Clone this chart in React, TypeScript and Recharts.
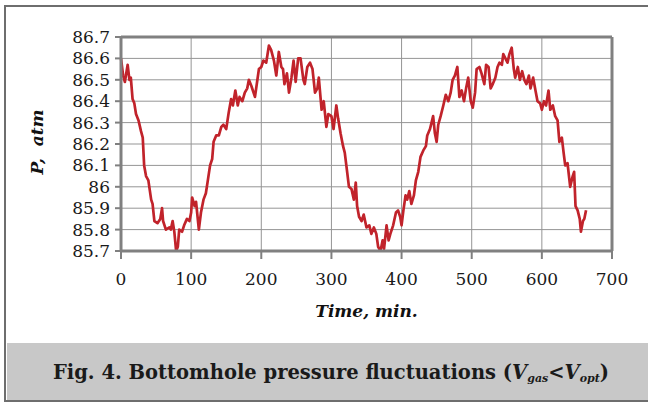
import React from 'react';
import { LineChart, Line, XAxis, YAxis, CartesianGrid, ReferenceLine } from 'recharts';

const times = [
  0, 3, 5.5, 9.5, 12, 14, 16.5, 19, 21.4, 25, 28.5, 31, 33, 35.7, 39, 43, 45, 47.6, 52, 56, 58.5, 60, 64, 69, 71, 73.6, 76, 78.6, 81, 83, 87, 90, 94, 97.6,
  100, 101.4, 105, 107, 111, 114, 117.6, 121, 123.8, 127, 130, 132, 135.7, 139.5, 143, 146, 150, 153.7, 157, 159.5, 163, 166.5, 169, 173, 176.5, 180, 182.3, 186, 191, 194, 196.6,
  200, 203, 207, 210.9, 214, 218, 221.4, 225, 228.6, 231, 233, 236.6, 239.5, 243, 246, 249, 252.6, 256, 260, 262, 265.6, 269.5, 273, 276.6, 280, 282, 286, 289, 292.8, 295.6,
  300, 303, 307, 309.5, 313, 316.6, 319, 322, 325, 328.6, 332, 334.7, 336.6, 339.4, 343, 346, 350, 354, 357, 360.5, 364, 366.6, 370, 373, 375, 378.6, 381.5, 384, 388, 392, 395, 398,
  400, 402.6, 405.7, 408, 411, 414, 417.6, 420.4, 423.8, 427, 431, 434.7, 436.6, 440.5, 445, 447.5, 450, 452.3, 455.7, 459.5, 463, 466.7, 470, 472.8, 476, 479.5, 482.4, 485.7, 489, 492, 495, 498.6,
  501.5, 504.8, 507, 511, 514, 518, 520.5, 524, 527, 530, 533.7, 536.8, 539.6, 543, 545, 548, 551, 553.7, 557, 560, 562, 565.7, 568.6, 571.9, 575, 578, 581.5, 583.8, 587.6, 590.9, 593.8, 597.6,
  600, 603, 606, 609.5, 612, 615.7, 619, 622.4, 625, 628.5, 631, 633.3, 636.6, 640.4, 644, 646, 648, 651, 654, 655.7, 658.6, 660.5, 663,
];

const pressure = [
  86.60, 86.52, 86.49, 86.57, 86.50, 86.51, 86.41, 86.39, 86.34, 86.31, 86.26, 86.23, 86.10, 86.05, 86.03, 85.94, 85.92, 85.84, 85.83, 85.85, 85.90, 85.84, 85.80, 85.81, 85.80, 85.84, 85.79, 85.70, 85.72, 85.80, 85.79, 85.82, 85.85, 85.84,
  85.88, 85.95, 85.91, 85.93, 85.80, 85.88, 85.94, 85.97, 86.03, 86.10, 86.13, 86.21, 86.24, 86.24, 86.28, 86.29, 86.27, 86.35, 86.41, 86.38, 86.45, 86.38, 86.42, 86.40, 86.44, 86.46, 86.50, 86.47, 86.42, 86.49, 86.55,
  86.56, 86.59, 86.58, 86.66, 86.64, 86.59, 86.52, 86.63, 86.56, 86.55, 86.48, 86.53, 86.44, 86.51, 86.59, 86.49, 86.60, 86.60, 86.50, 86.48, 86.56, 86.58, 86.55, 86.44, 86.46, 86.51, 86.36, 86.40, 86.28, 86.34,
  86.33, 86.27, 86.38, 86.32, 86.25, 86.19, 86.16, 86.08, 86.00, 85.99, 85.94, 86.02, 85.91, 85.86, 85.84, 85.87, 85.81, 85.82, 85.78, 85.81, 85.78, 85.72, 85.70, 85.75, 85.71, 85.82, 85.75, 85.78, 85.82, 85.88, 85.89, 85.86,
  85.82, 85.89, 85.96, 85.94, 85.98, 85.92, 85.96, 86.03, 86.07, 86.14, 86.17, 86.19, 86.24, 86.27, 86.33, 86.25, 86.21, 86.29, 86.33, 86.38, 86.43, 86.40, 86.44, 86.50, 86.52, 86.56, 86.42, 86.45, 86.40, 86.46, 86.51, 86.40,
  86.37, 86.44, 86.55, 86.56, 86.53, 86.48, 86.57, 86.56, 86.46, 86.48, 86.51, 86.56, 86.58, 86.57, 86.62, 86.60, 86.58, 86.62, 86.65, 86.55, 86.51, 86.56, 86.50, 86.54, 86.50, 86.48, 86.52, 86.46, 86.51, 86.45, 86.40, 86.39,
  86.36, 86.40, 86.38, 86.45, 86.36, 86.38, 86.33, 86.31, 86.21, 86.23, 86.16, 86.10, 86.11, 86.00, 86.05, 86.07, 85.91, 85.89, 85.85, 85.79, 85.84, 85.85, 85.89,
];

const xTicks = [0, 100, 200, 300, 400, 500, 600, 700];
const yTicks = [85.7, 85.8, 85.9, 86.0, 86.1, 86.2, 86.3, 86.4, 86.5, 86.6, 86.7];

const xTitle = 'Time, min.';
const yTitle = 'P,  atm';

const data = times.map((t, i) => ({ time: t, p: pressure[i] }));

const FONT = '"DejaVu Serif", serif';
const AXIS = '#808080';

const YTitle = (props: any) => {
  const vb = props.viewBox || {};
  const cx = 37;
  const cy = (vb.y ?? 37) + (vb.height ?? 214) / 2 - 2;
  return (
    <text
      x={cx}
      y={cy}
      transform={`rotate(-90 ${cx} ${cy})`}
      textAnchor="middle"
      dominantBaseline="central"
      style={{ whiteSpace: 'pre' }}
      fontFamily={FONT}
      fontWeight="bold"
      fontStyle="italic"
      fontSize={17}
      fill="#111"
    >
      {yTitle}
    </text>
  );
};

const XTitle = (props: any) => {
  const vb = props.viewBox || {};
  const cx = (vb.x ?? 121) + (vb.width ?? 491) / 2;
  const cy = (vb.y ?? 251) + 66;
  return (
    <text
      x={cx}
      y={cy}
      textAnchor="middle"
      fontFamily={FONT}
      fontWeight="bold"
      fontStyle="italic"
      fontSize={17}
      fill="#111"
    >
      {xTitle}
    </text>
  );
};

export default function App() {
  return (
    <div style={{ position: 'absolute', left: 0, top: 0, width: 648, height: 406, background: '#fff', overflow: 'hidden' }}>
      <div
        style={{
          position: 'absolute',
          left: 4,
          top: 5,
          width: 660,
          height: 397,
          border: '2.5px solid #6e6e6e',
          boxSizing: 'border-box',
        }}
      />
      <div
        style={{
          position: 'absolute',
          left: 6.5,
          top: 343,
          width: 660,
          height: 56.5,
          background: '#c8c8c8',
        }}
      />
      <div
        style={{
          position: 'absolute',
          left: 331 - 320,
          top: 344,
          width: 640,
          height: 58,
          lineHeight: '58px',
          textAlign: 'center',
          fontFamily: FONT,
          fontWeight: 'bold',
          fontSize: 19.5,
          color: '#1a1a1a',
          whiteSpace: 'nowrap',
        }}
      >
        Fig. 4. Bottomhole pressure fluctuations (
        <i>V</i>
        <sub style={{ fontSize: 11, fontStyle: 'italic', verticalAlign: '-3px' }}>gas</sub>
        {'<'}
        <i>V</i>
        <sub style={{ fontSize: 11, fontStyle: 'italic', verticalAlign: '-3px' }}>opt</sub>)
      </div>
      <div style={{ position: 'absolute', left: 0, top: 0 }}>
        <LineChart width={648} height={340} data={data} margin={{ top: 37, right: 36, left: 0, bottom: 29 }}>
          <CartesianGrid stroke="#959595" strokeWidth={1} horizontal vertical />
          <XAxis
            dataKey="time"
            type="number"
            domain={[0, 700]}
            ticks={xTicks}
            interval={0}
            height={60}
            axisLine={{ stroke: AXIS, strokeWidth: 3 }}
            tickLine={{ stroke: AXIS, strokeWidth: 2 }}
            tickSize={8}
            tickMargin={14}
            tick={{ fontFamily: FONT, fontSize: 17, fill: '#1a1a1a' }}
            label={<XTitle />}
          />
          <YAxis
            type="number"
            domain={[85.7, 86.7]}
            ticks={yTicks}
            interval={0}
            width={121}
            allowDataOverflow
            axisLine={{ stroke: AXIS, strokeWidth: 3 }}
            tickLine={{ stroke: AXIS, strokeWidth: 2 }}
            tickSize={6}
            tickMargin={5}
            tickFormatter={(v: number) => String(Number(v.toFixed(1)))}
            tick={{ fontFamily: FONT, fontSize: 17, fill: '#1a1a1a' }}
            label={<YTitle />}
          />
          <ReferenceLine y={86.7} stroke={AXIS} strokeWidth={3} ifOverflow="visible" />
          <ReferenceLine x={700} stroke={AXIS} strokeWidth={3} ifOverflow="visible" />
          <Line
            type="linear"
            dataKey="p"
            stroke="#c1232b"
            strokeWidth={2.7}
            dot={false}
            isAnimationActive={false}
            strokeLinejoin="round"
          />
        </LineChart>
      </div>
    </div>
  );
}
